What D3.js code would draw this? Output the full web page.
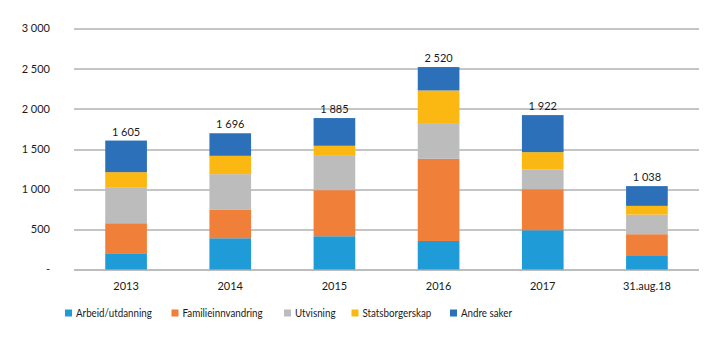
<!DOCTYPE html>
<html lang="no">
<head>
<meta charset="utf-8"/>
<script src="https://d3js.org/d3.v7.min.js"></script>
<style>
  body { margin: 0; background: #fff; }
  text { font-family: Lato, "Open Sans", sans-serif; fill: #1a1a1a; }
</style>
</head>
<body>
<div id="chart"></div>
<script>
// data
var years = ["2013", "2014", "2015", "2016", "2017", "31.aug.18"];
var seriesNames = ["Arbeid/utdanning", "Familieinnvandring", "Utvisning", "Statsborgerskap", "Andre saker"];
var arbeid = [202, 389, 414, 355, 489, 168];
var familie = [374, 353, 574, 1023, 511, 271];
var utvisning = [449, 445, 436, 445, 244, 244];
var statsborger = [187, 228, 116, 406, 217, 109];
var andre = [393, 281, 345, 291, 461, 246];
var totals = [1605, 1696, 1885, 2520, 1922, 1038];
var yTicks = [0, 500, 1000, 1500, 2000, 2500, 3000];

var colors = ["#1f9bd7", "#f07f3a", "#bcbcbc", "#fbb813", "#2b70b8"];

var width = 720, height = 341;
var margin = { top: 28.5, right: 21, bottom: 71.5, left: 74 };
var innerW = width - margin.left - margin.right,
    innerH = height - margin.top - margin.bottom;

var rows = years.map(function(y, i) {
  return { year: y, s0: arbeid[i], s1: familie[i], s2: utvisning[i], s3: statsborger[i], s4: andre[i] };
});

var stack = d3.stack().keys(["s0", "s1", "s2", "s3", "s4"]);
var layers = stack(rows);

var x = d3.scaleBand()
  .domain(years)
  .range([0, innerW])
  .paddingInner(0.6)
  .paddingOuter(0.3);

var y = d3.scaleLinear()
  .domain([0, 3000])
  .range([innerH, 0]);

// norwegian style: space as thousands separator, zero shown as a dash
var fmt = function(v) { return v === 0 ? "-" : d3.format(",")(v).replace(",", " "); };

var svg = d3.select("#chart").append("svg")
  .attr("width", width)
  .attr("height", height);

var g = svg.append("g")
  .attr("transform", "translate(" + margin.left + "," + margin.top + ")");

// gridlines
g.append("g")
  .selectAll("line")
  .data(yTicks)
  .enter().append("line")
    .attr("x1", 0)
    .attr("x2", innerW)
    .attr("y1", function(d) { return Math.round(y(d)) + 0.5; })
    .attr("y2", function(d) { return Math.round(y(d)) + 0.5; })
    .attr("stroke", function(d) { return d === 0 ? "#bdbdbd" : "#8a8a8a"; })
    .attr("stroke-width", function(d) { return d === 0 ? 2 : 1; });

// y labels
g.append("g")
  .selectAll("text")
  .data(yTicks)
  .enter().append("text")
    .attr("x", -24)
    .attr("y", function(d) { return y(d); })
    .attr("dy", "0.35em")
    .attr("text-anchor", "end")
    .style("font-size", "11px")
    .text(fmt);

// bars
g.append("g")
  .selectAll("g")
  .data(layers)
  .enter().append("g")
    .attr("fill", function(d, i) { return colors[i]; })
  .selectAll("rect")
  .data(function(d) { return d; })
  .enter().append("rect")
    .attr("x", function(d) { return x(d.data.year); })
    .attr("width", x.bandwidth())
    .attr("y", function(d) { return y(d[1]); })
    .attr("height", function(d) { return y(d[0]) - y(d[1]); });

// totals
g.append("g")
  .selectAll("text")
  .data(years)
  .enter().append("text")
    .attr("x", function(d) { return x(d) + x.bandwidth() / 2; })
    .attr("y", function(d, i) { return y(totals[i]) - 5; })
    .attr("text-anchor", "middle")
    .style("font-size", "11px")
    .text(function(d, i) { return fmt(totals[i]); });

// x axis labels
g.append("g")
  .selectAll("text")
  .data(years)
  .enter().append("text")
    .attr("x", function(d) { return x(d) + x.bandwidth() / 2; })
    .attr("y", innerH + 20)
    .attr("text-anchor", "middle")
    .style("font-size", "11px")
    .text(function(d) { return d; });

// legend (text squeezed a bit, the original font is narrower)
var legendX = [65, 171.5, 284, 351.5, 450];
var legend = svg.append("g")
  .selectAll("g")
  .data(seriesNames)
  .enter().append("g")
    .attr("transform", function(d, i) { return "translate(" + legendX[i] + ",313)"; });

legend.append("rect")
  .attr("x", 0)
  .attr("y", -3.5)
  .attr("width", 7)
  .attr("height", 7)
  .attr("fill", function(d, i) { return colors[i]; });

legend.append("text")
  .attr("transform", "translate(11,0) scale(0.85,1)")
  .attr("dy", "0.35em")
  .style("font-size", "11.5px")
  .text(function(d) { return d; });
</script>
</body>
</html>
